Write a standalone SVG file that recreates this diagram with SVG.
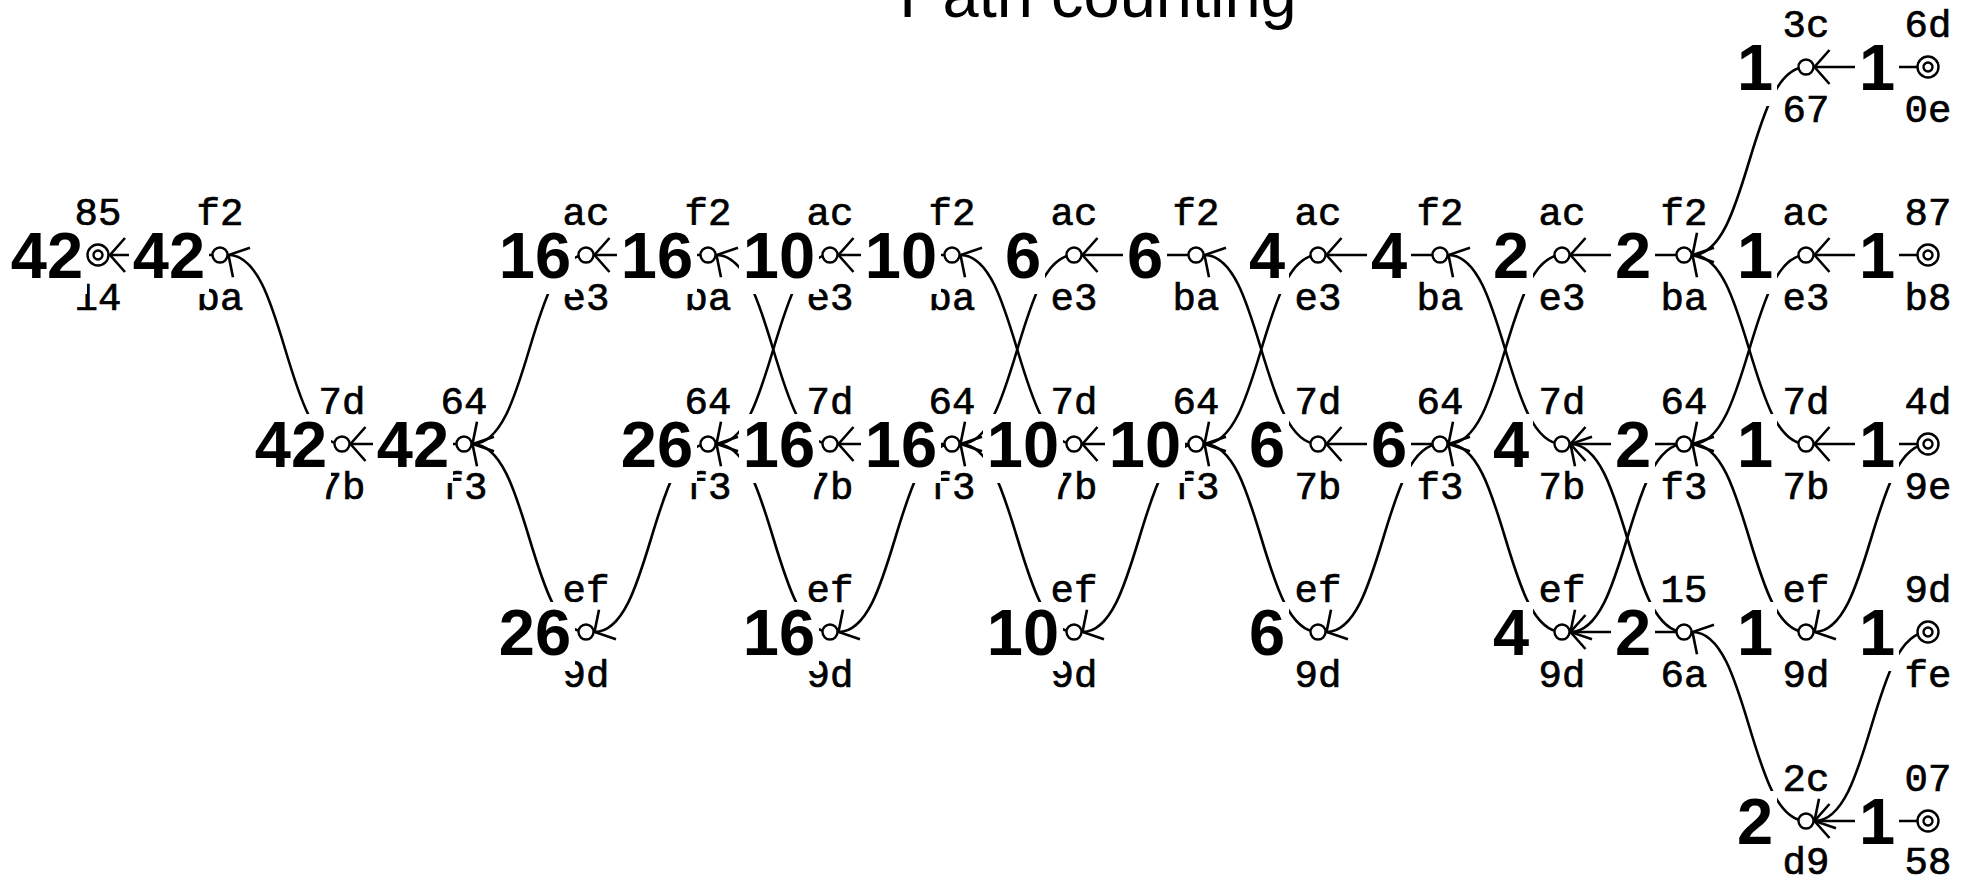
<svg xmlns="http://www.w3.org/2000/svg" width="1973" height="881" viewBox="0 0 1973 881">
<style>
.e{fill:none;stroke:#000;stroke-width:2.6}
.c{fill:#fff;stroke:#000;stroke-width:2.4}
.bx{fill:#fff}
.n{font-family:"Liberation Sans",Arial,sans-serif;font-weight:bold;font-size:65px;text-anchor:middle}
.l{font-family:"Liberation Mono","Courier New",monospace;font-size:39px;text-anchor:middle;stroke:#000;stroke-width:0.7}
.t{font-family:"Liberation Sans",Arial,sans-serif;font-size:65px;text-anchor:middle}
.s{marker-end:url(#ah)}
.d{marker-end:url(#ahd)}
.u{marker-end:url(#ahu)}
</style>
<defs>
<marker id="ah" markerUnits="userSpaceOnUse" orient="auto" overflow="visible" markerWidth="1" markerHeight="1"><path d="M-15,-17 L0,0 L-15,17" fill="none" stroke="#000" stroke-width="2.6"/></marker>
<marker id="ahd" markerUnits="userSpaceOnUse" orient="150" overflow="visible" markerWidth="1" markerHeight="1"><path d="M-15,-17 L0,0 L-15,17" fill="none" stroke="#000" stroke-width="2.6"/></marker>
<marker id="ahu" markerUnits="userSpaceOnUse" orient="210" overflow="visible" markerWidth="1" markerHeight="1"><path d="M-15,-17 L0,0 L-15,17" fill="none" stroke="#000" stroke-width="2.6"/></marker>
</defs>
<rect width="1973" height="881" fill="#fff"/>
<text class="t" x="1098" y="17">Path counting</text>
<g id="connectors">
<path class="e s" d="M220 255 H110"/>
<path class="e u" d="M342 444 C285.25 444 285.25 255 228.5 255"/>
<path class="e s" d="M464 444 H350.5"/>
<path class="e d" d="M586 255 C529.25 255 529.25 444 472.5 444"/>
<path class="e u" d="M586 632 C529.25 632 529.25 444 472.5 444"/>
<path class="e s" d="M708 255 H594.5"/>
<path class="e d" d="M708 444 C651.25 444 651.25 632 594.5 632"/>
<path class="e u" d="M830 444 C773.25 444 773.25 255 716.5 255"/>
<path class="e d" d="M830 255 C773.25 255 773.25 444 716.5 444"/>
<path class="e u" d="M830 632 C773.25 632 773.25 444 716.5 444"/>
<path class="e s" d="M952 255 H838.5"/>
<path class="e s" d="M952 444 H838.5"/>
<path class="e d" d="M952 444 C895.25 444 895.25 632 838.5 632"/>
<path class="e u" d="M1074 444 C1017.25 444 1017.25 255 960.5 255"/>
<path class="e d" d="M1074 255 C1017.25 255 1017.25 444 960.5 444"/>
<path class="e u" d="M1074 632 C1017.25 632 1017.25 444 960.5 444"/>
<path class="e s" d="M1196 255 H1082.5"/>
<path class="e s" d="M1196 444 H1082.5"/>
<path class="e d" d="M1196 444 C1139.25 444 1139.25 632 1082.5 632"/>
<path class="e u" d="M1318 444 C1261.25 444 1261.25 255 1204.5 255"/>
<path class="e d" d="M1318 255 C1261.25 255 1261.25 444 1204.5 444"/>
<path class="e u" d="M1318 632 C1261.25 632 1261.25 444 1204.5 444"/>
<path class="e s" d="M1440 255 H1326.5"/>
<path class="e s" d="M1440 444 H1326.5"/>
<path class="e d" d="M1440 444 C1383.25 444 1383.25 632 1326.5 632"/>
<path class="e u" d="M1562 444 C1505.25 444 1505.25 255 1448.5 255"/>
<path class="e d" d="M1562 255 C1505.25 255 1505.25 444 1448.5 444"/>
<path class="e u" d="M1562 632 C1505.25 632 1505.25 444 1448.5 444"/>
<path class="e s" d="M1684 255 H1570.5"/>
<path class="e s" d="M1684 444 H1570.5"/>
<path class="e d" d="M1684 444 C1627.25 444 1627.25 632 1570.5 632"/>
<path class="e s" d="M1684 632 H1570.5"/>
<path class="e u" d="M1684 632 C1627.25 632 1627.25 444 1570.5 444"/>
<path class="e d" d="M1806 67 C1749.25 67 1749.25 255 1692.5 255"/>
<path class="e u" d="M1806 444 C1749.25 444 1749.25 255 1692.5 255"/>
<path class="e d" d="M1806 255 C1749.25 255 1749.25 444 1692.5 444"/>
<path class="e u" d="M1806 632 C1749.25 632 1749.25 444 1692.5 444"/>
<path class="e u" d="M1806 821 C1749.25 821 1749.25 632 1692.5 632"/>
<path class="e s" d="M1928 67 H1814.5"/>
<path class="e s" d="M1928 255 H1814.5"/>
<path class="e s" d="M1928 444 H1814.5"/>
<path class="e d" d="M1928 444 C1871.25 444 1871.25 632 1814.5 632"/>
<path class="e d" d="M1928 632 C1871.25 632 1871.25 821 1814.5 821"/>
<path class="e s" d="M1928 821 H1814.5"/>
</g>
<g id="n-c1r1" transform="translate(98 255)"><text class="l" y="-30">85</text><text class="l" y="55">14</text><rect class="bx" x="-91" y="-30" width="80" height="69"/><text class="n" x="-51" y="23">42</text><circle class="c" r="10.5"/><circle class="c" r="4.5"/></g>
<g id="n-c2r1" transform="translate(220 255)"><text class="l" y="-30">f2</text><text class="l" y="55">ba</text><rect class="bx" x="-91" y="-30" width="80" height="69"/><text class="n" x="-51" y="23">42</text><circle class="c" r="7.5"/></g>
<g id="n-c3r2" transform="translate(342 444)"><text class="l" y="-30">7d</text><text class="l" y="55">7b</text><rect class="bx" x="-91" y="-30" width="80" height="69"/><text class="n" x="-51" y="23">42</text><circle class="c" r="7.5"/></g>
<g id="n-c4r2" transform="translate(464 444)"><text class="l" y="-30">64</text><text class="l" y="55">f3</text><rect class="bx" x="-91" y="-30" width="80" height="69"/><text class="n" x="-51" y="23">42</text><circle class="c" r="7.5"/></g>
<g id="n-c5r1" transform="translate(586 255)"><text class="l" y="-30">ac</text><text class="l" y="55">e3</text><rect class="bx" x="-91" y="-30" width="80" height="69"/><text class="n" x="-51" y="23">16</text><circle class="c" r="7.5"/></g>
<g id="n-c5r3" transform="translate(586 632)"><text class="l" y="-30">ef</text><text class="l" y="55">9d</text><rect class="bx" x="-91" y="-30" width="80" height="69"/><text class="n" x="-51" y="23">26</text><circle class="c" r="7.5"/></g>
<g id="n-c6r1" transform="translate(708 255)"><text class="l" y="-30">f2</text><text class="l" y="55">ba</text><rect class="bx" x="-91" y="-30" width="80" height="69"/><text class="n" x="-51" y="23">16</text><circle class="c" r="7.5"/></g>
<g id="n-c6r2" transform="translate(708 444)"><text class="l" y="-30">64</text><text class="l" y="55">f3</text><rect class="bx" x="-91" y="-30" width="80" height="69"/><text class="n" x="-51" y="23">26</text><circle class="c" r="7.5"/></g>
<g id="n-c7r1" transform="translate(830 255)"><text class="l" y="-30">ac</text><text class="l" y="55">e3</text><rect class="bx" x="-91" y="-30" width="80" height="69"/><text class="n" x="-51" y="23">10</text><circle class="c" r="7.5"/></g>
<g id="n-c7r2" transform="translate(830 444)"><text class="l" y="-30">7d</text><text class="l" y="55">7b</text><rect class="bx" x="-91" y="-30" width="80" height="69"/><text class="n" x="-51" y="23">16</text><circle class="c" r="7.5"/></g>
<g id="n-c7r3" transform="translate(830 632)"><text class="l" y="-30">ef</text><text class="l" y="55">9d</text><rect class="bx" x="-91" y="-30" width="80" height="69"/><text class="n" x="-51" y="23">16</text><circle class="c" r="7.5"/></g>
<g id="n-c8r1" transform="translate(952 255)"><text class="l" y="-30">f2</text><text class="l" y="55">ba</text><rect class="bx" x="-91" y="-30" width="80" height="69"/><text class="n" x="-51" y="23">10</text><circle class="c" r="7.5"/></g>
<g id="n-c8r2" transform="translate(952 444)"><text class="l" y="-30">64</text><text class="l" y="55">f3</text><rect class="bx" x="-91" y="-30" width="80" height="69"/><text class="n" x="-51" y="23">16</text><circle class="c" r="7.5"/></g>
<g id="n-c9r1" transform="translate(1074 255)"><text class="l" y="-30">ac</text><text class="l" y="55">e3</text><rect class="bx" x="-73" y="-30" width="44" height="69"/><text class="n" x="-51" y="23">6</text><circle class="c" r="7.5"/></g>
<g id="n-c9r2" transform="translate(1074 444)"><text class="l" y="-30">7d</text><text class="l" y="55">7b</text><rect class="bx" x="-91" y="-30" width="80" height="69"/><text class="n" x="-51" y="23">10</text><circle class="c" r="7.5"/></g>
<g id="n-c9r3" transform="translate(1074 632)"><text class="l" y="-30">ef</text><text class="l" y="55">9d</text><rect class="bx" x="-91" y="-30" width="80" height="69"/><text class="n" x="-51" y="23">10</text><circle class="c" r="7.5"/></g>
<g id="n-c10r1" transform="translate(1196 255)"><text class="l" y="-30">f2</text><text class="l" y="55">ba</text><rect class="bx" x="-73" y="-30" width="44" height="69"/><text class="n" x="-51" y="23">6</text><circle class="c" r="7.5"/></g>
<g id="n-c10r2" transform="translate(1196 444)"><text class="l" y="-30">64</text><text class="l" y="55">f3</text><rect class="bx" x="-91" y="-30" width="80" height="69"/><text class="n" x="-51" y="23">10</text><circle class="c" r="7.5"/></g>
<g id="n-c11r1" transform="translate(1318 255)"><text class="l" y="-30">ac</text><text class="l" y="55">e3</text><rect class="bx" x="-73" y="-30" width="44" height="69"/><text class="n" x="-51" y="23">4</text><circle class="c" r="7.5"/></g>
<g id="n-c11r2" transform="translate(1318 444)"><text class="l" y="-30">7d</text><text class="l" y="55">7b</text><rect class="bx" x="-73" y="-30" width="44" height="69"/><text class="n" x="-51" y="23">6</text><circle class="c" r="7.5"/></g>
<g id="n-c11r3" transform="translate(1318 632)"><text class="l" y="-30">ef</text><text class="l" y="55">9d</text><rect class="bx" x="-73" y="-30" width="44" height="69"/><text class="n" x="-51" y="23">6</text><circle class="c" r="7.5"/></g>
<g id="n-c12r1" transform="translate(1440 255)"><text class="l" y="-30">f2</text><text class="l" y="55">ba</text><rect class="bx" x="-73" y="-30" width="44" height="69"/><text class="n" x="-51" y="23">4</text><circle class="c" r="7.5"/></g>
<g id="n-c12r2" transform="translate(1440 444)"><text class="l" y="-30">64</text><text class="l" y="55">f3</text><rect class="bx" x="-73" y="-30" width="44" height="69"/><text class="n" x="-51" y="23">6</text><circle class="c" r="7.5"/></g>
<g id="n-c13r1" transform="translate(1562 255)"><text class="l" y="-30">ac</text><text class="l" y="55">e3</text><rect class="bx" x="-73" y="-30" width="44" height="69"/><text class="n" x="-51" y="23">2</text><circle class="c" r="7.5"/></g>
<g id="n-c13r2" transform="translate(1562 444)"><text class="l" y="-30">7d</text><text class="l" y="55">7b</text><rect class="bx" x="-73" y="-30" width="44" height="69"/><text class="n" x="-51" y="23">4</text><circle class="c" r="7.5"/></g>
<g id="n-c13r3" transform="translate(1562 632)"><text class="l" y="-30">ef</text><text class="l" y="55">9d</text><rect class="bx" x="-73" y="-30" width="44" height="69"/><text class="n" x="-51" y="23">4</text><circle class="c" r="7.5"/></g>
<g id="n-c14r1" transform="translate(1684 255)"><text class="l" y="-30">f2</text><text class="l" y="55">ba</text><rect class="bx" x="-73" y="-30" width="44" height="69"/><text class="n" x="-51" y="23">2</text><circle class="c" r="7.5"/></g>
<g id="n-c14r2" transform="translate(1684 444)"><text class="l" y="-30">64</text><text class="l" y="55">f3</text><rect class="bx" x="-73" y="-30" width="44" height="69"/><text class="n" x="-51" y="23">2</text><circle class="c" r="7.5"/></g>
<g id="n-c14r3" transform="translate(1684 632)"><text class="l" y="-30">15</text><text class="l" y="55">6a</text><rect class="bx" x="-73" y="-30" width="44" height="69"/><text class="n" x="-51" y="23">2</text><circle class="c" r="7.5"/></g>
<g id="n-c15r0" transform="translate(1806 67)"><text class="l" y="-30">3c</text><text class="l" y="55">67</text><rect class="bx" x="-73" y="-30" width="44" height="69"/><text class="n" x="-51" y="23">1</text><circle class="c" r="7.5"/></g>
<g id="n-c15r1" transform="translate(1806 255)"><text class="l" y="-30">ac</text><text class="l" y="55">e3</text><rect class="bx" x="-73" y="-30" width="44" height="69"/><text class="n" x="-51" y="23">1</text><circle class="c" r="7.5"/></g>
<g id="n-c15r2" transform="translate(1806 444)"><text class="l" y="-30">7d</text><text class="l" y="55">7b</text><rect class="bx" x="-73" y="-30" width="44" height="69"/><text class="n" x="-51" y="23">1</text><circle class="c" r="7.5"/></g>
<g id="n-c15r3" transform="translate(1806 632)"><text class="l" y="-30">ef</text><text class="l" y="55">9d</text><rect class="bx" x="-73" y="-30" width="44" height="69"/><text class="n" x="-51" y="23">1</text><circle class="c" r="7.5"/></g>
<g id="n-c15r4" transform="translate(1806 821)"><text class="l" y="-30">2c</text><text class="l" y="53">d9</text><rect class="bx" x="-73" y="-30" width="44" height="69"/><text class="n" x="-51" y="23">2</text><circle class="c" r="7.5"/></g>
<g id="n-c16r0" transform="translate(1928 67)"><text class="l" y="-30">6d</text><text class="l" y="55">0e</text><rect class="bx" x="-73" y="-30" width="44" height="69"/><text class="n" x="-51" y="23">1</text><circle class="c" r="10.5"/><circle class="c" r="4.5"/></g>
<g id="n-c16r1" transform="translate(1928 255)"><text class="l" y="-30">87</text><text class="l" y="55">b8</text><rect class="bx" x="-73" y="-30" width="44" height="69"/><text class="n" x="-51" y="23">1</text><circle class="c" r="10.5"/><circle class="c" r="4.5"/></g>
<g id="n-c16r2" transform="translate(1928 444)"><text class="l" y="-30">4d</text><text class="l" y="55">9e</text><rect class="bx" x="-73" y="-30" width="44" height="69"/><text class="n" x="-51" y="23">1</text><circle class="c" r="10.5"/><circle class="c" r="4.5"/></g>
<g id="n-c16r3" transform="translate(1928 632)"><text class="l" y="-30">9d</text><text class="l" y="55">fe</text><rect class="bx" x="-73" y="-30" width="44" height="69"/><text class="n" x="-51" y="23">1</text><circle class="c" r="10.5"/><circle class="c" r="4.5"/></g>
<g id="n-c16r4" transform="translate(1928 821)"><text class="l" y="-30">07</text><text class="l" y="53">58</text><rect class="bx" x="-73" y="-30" width="44" height="69"/><text class="n" x="-51" y="23">1</text><circle class="c" r="10.5"/><circle class="c" r="4.5"/></g>
</svg>
